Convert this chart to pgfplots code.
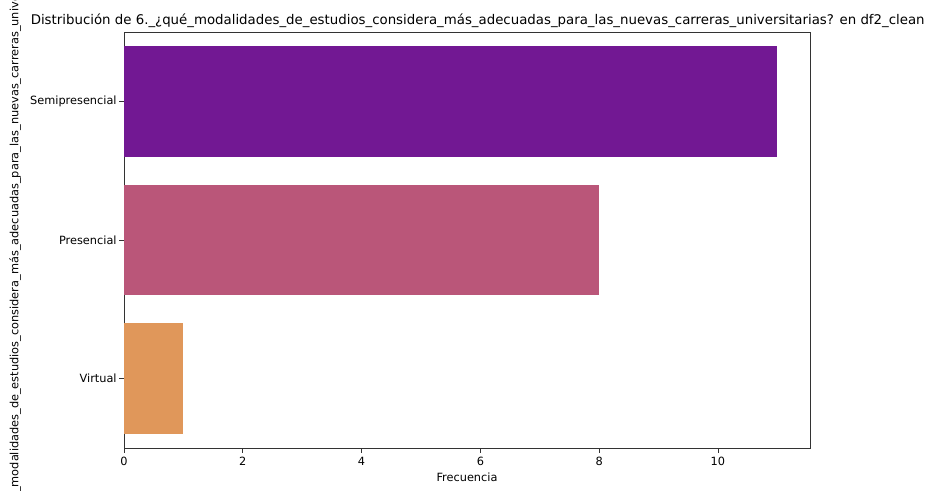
\documentclass[border=0pt]{standalone}
\usepackage{fontspec}
\setmainfont{DejaVu Sans}
\usepackage{pgfplots}
\pgfplotsset{compat=1.18}
\definecolor{cSemi}{HTML}{721893}
\definecolor{cPres}{HTML}{BA5679}
\definecolor{cVirt}{HTML}{E0975A}
\begin{document}
\begin{tikzpicture}[x=0.75pt,y=0.75pt]
\begin{axis}[
  name=ax,
  anchor=south west, at={(0,0)},
  scale only axis,
  width=514.5pt, height=312pt,
  xmin=0, xmax=11.55,
  ymin=-0.5, ymax=2.5,
  y dir=reverse,
  ytick={0,1,2},
  yticklabels={Semipresencial,Presencial,Virtual},
  xtick={0,2,4,6,8,10},
  tick pos=left,
  tick align=outside,
  major tick length=3.5pt,
  tick style={line width=0.6pt, black!80},
  axis line style={line width=0.6pt, black!80},
  tick label style={font=\fontsize{8.5pt}{10pt}\selectfont},
  yticklabel style={xshift=1.5pt},
  /pgf/number format/assume math mode=true,
  xlabel={Frecuencia},
  xlabel style={font=\fontsize{8.5pt}{10pt}\selectfont, yshift=2pt},
  ylabel={6.\_¿qué\_modalidades\_de\_estudios\_considera\_más\_adecuadas\_para\_las\_nuevas\_carreras\_universitarias?},
  ylabel style={font=\fontsize{8.5pt}{10pt}\selectfont, overlay, yshift=0pt},
  title={Distribución de 6.\_¿qué\_modalidades\_de\_estudios\_considera\_más\_adecuadas\_para\_las\_nuevas\_carreras\_universitarias? en df2\_clean},
  title style={font=\fontsize{10pt}{12pt}\selectfont, overlay, yshift=-6.5pt, xshift=8pt},
  xbar, bar width=0.8, bar shift=0pt,
]
\addplot[draw=none, fill=cSemi] coordinates {(11,0)};
\addplot[draw=none, fill=cPres] coordinates {(8,1)};
\addplot[draw=none, fill=cVirt] coordinates {(1,2)};
\end{axis}
\pgfresetboundingbox
\useasboundingbox (-93pt,-32.25pt) rectangle (602.25pt,336pt);
\end{tikzpicture}
\end{document}
